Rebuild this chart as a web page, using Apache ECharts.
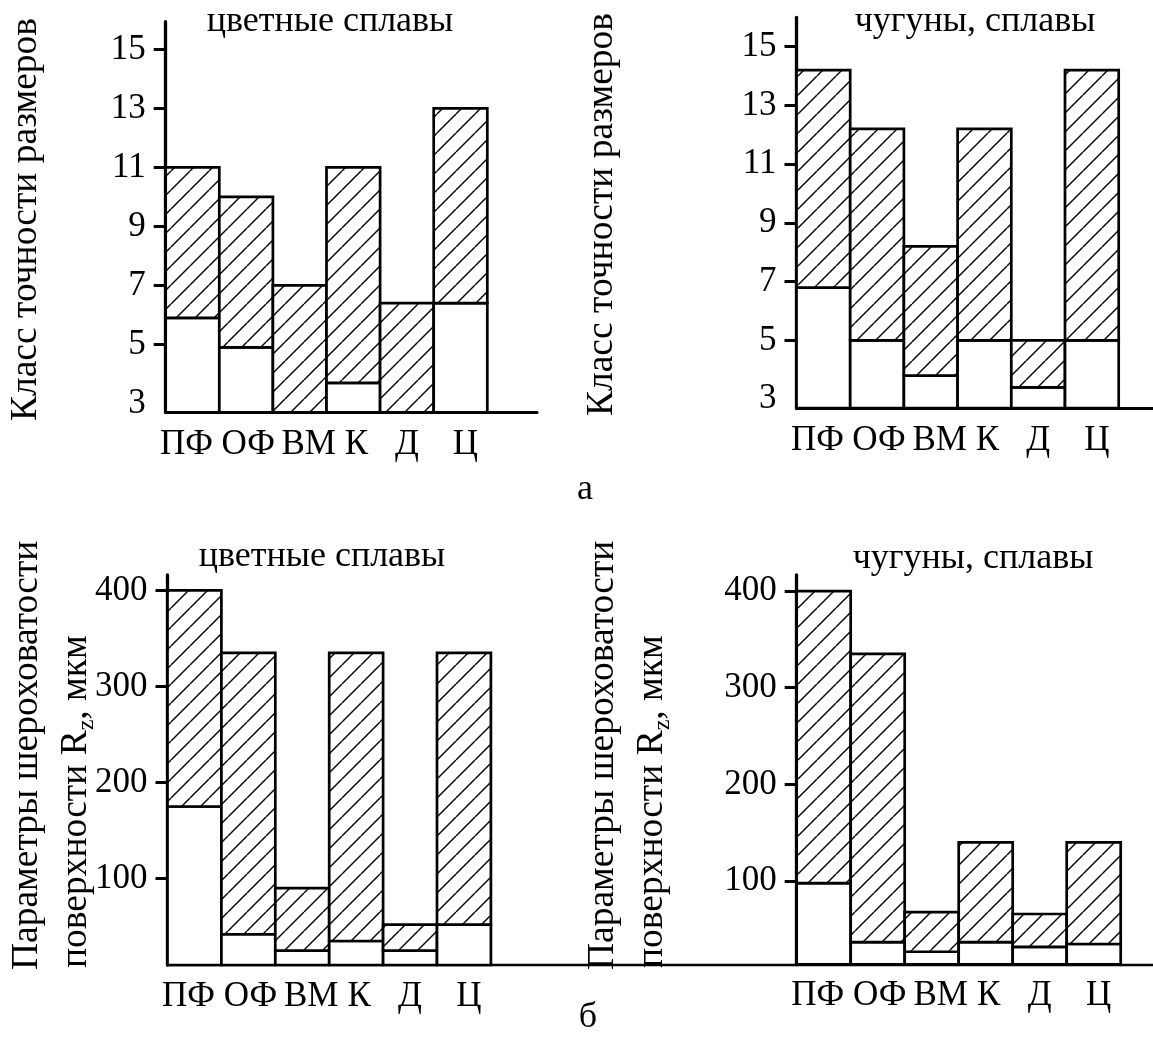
<!DOCTYPE html>
<html>
<head>
<meta charset="utf-8">
<script src="https://cdn.jsdelivr.net/npm/echarts@6/dist/echarts.min.js"></script>
<style>
html,body{margin:0;padding:0;background:#fff;}
#chart{width:1153px;height:1037px;}
</style>
</head>
<body>
<div id="chart"></div>
<script>
// ---------- DATA ----------
const categories = ['ПФ', 'ОФ', 'ВМ', 'К', 'Д', 'Ц'];

// а) Класс точности размеров (low = bottom of hatched range, high = top)
const accNonFerrousLow  = [5.9, 4.9, null, 3.7, null, 6.4];
const accNonFerrousHigh = [11, 10, 7, 11, 6.4, 13];
const accCastIronLow    = [6.8, 5, 3.8, 5, 3.4, 5];
const accCastIronHigh   = [14.2, 12.2, 8.2, 12.2, 5, 14.2];

// б) Параметры шероховатости Rz, мкм
const roughNonFerrousLow  = [175, 42, 25, 35, 25, 52];
const roughNonFerrousHigh = [400, 335, 90, 335, 52, 335];
const roughCastIronLow    = [98, 37, 27, 37, 32, 35];
const roughCastIronHigh   = [400, 335, 68, 140, 66, 140];

const accTickLabels = [3, 5, 7, 9, 11, 13, 15];
const accTickMarks  = [5, 7, 9, 11, 13, 15];
const roughTickLabels = [100, 200, 300, 400];
const roughTickMarks  = [100, 200, 300, 400];

const titleNonFerrous = 'цветные сплавы';
const titleCastIron = 'чугуны, сплавы';
const yTitleAcc = 'Класс точности размеров';
const yTitleRough1 = 'Параметры шероховатости';
const yTitleRough2 = 'поверхности R{z|z}, мкм';

// ---------- STYLE / LAYOUT ----------
const FONT = 'Liberation Serif';
const LINE = 2.7;
const labelNudge = [-6, 2, 9, 3, 0, 5];

function hatchCanvas() {
  const s = 19;
  const c = document.createElement('canvas');
  c.width = s; c.height = s;
  const g = c.getContext('2d');
  g.fillStyle = '#fff';
  g.fillRect(0, 0, s, s);
  g.strokeStyle = '#000';
  g.lineWidth = 1.4;
  for (const k of [-s, 0, s]) {
    g.beginPath();
    g.moveTo(k, s);
    g.lineTo(k + s, 0);
    g.stroke();
  }
  return c;
}
const hatch = { image: hatchCanvas(), repeat: 'repeat' };

const panels = [
  { left: 165.7, top: 21.7, width: 321.6, height: 390.6, min: 2.7, max: 15.94,
    low: accNonFerrousLow, high: accNonFerrousHigh,
    labels: accTickLabels, marks: accTickMarks, extEnd: 537, xw: 3, lm: 15 },
  { left: 796.5, top: 17.3, width: 322.2, height: 390.7, min: 2.7, max: 16.0,
    low: accCastIronLow, high: accCastIronHigh,
    labels: accTickLabels, marks: accTickMarks, extEnd: 1160, xw: 3, lm: 15 },
  { left: 167.5, top: 575, width: 323.4, height: 390, min: 10, max: 416,
    low: roughNonFerrousLow, high: roughNonFerrousHigh,
    labels: roughTickLabels, marks: roughTickMarks, extEnd: 797, xw: 2.4, lm: 14 },
  { left: 796.7, top: 575, width: 324, height: 389.3, min: 14, max: 416.6,
    low: roughCastIronLow, high: roughCastIronHigh,
    labels: roughTickLabels, marks: roughTickMarks, extEnd: 1160, xw: 2.4, lm: 14 }
];

const rich = {};
labelNudge.forEach((d, k) => {
  rich['s' + k] = { fontFamily: FONT, fontSize: 35, color: '#000',
                    padding: [0, d < 0 ? -2 * d : 0, 0, d > 0 ? 2 * d : 0] };
});

function makeRender(p) {
  return function (params, api) {
    const i = api.value(0);
    const low = api.value(1);
    const high = api.value(2);
    const hasLow = !isNaN(low) && low > p.min;
    const lo = hasLow ? low : p.min;
    const w = api.size([1, 0])[0];
    const pBase = api.coord([i, p.min]);
    const pLow = api.coord([i, lo]);
    const pHigh = api.coord([i, high]);
    const x = pBase[0] - w / 2;
    const children = [];
    if (hasLow) {
      children.push({ type: 'rect',
        shape: { x: x, y: pLow[1], width: w, height: pBase[1] - pLow[1] },
        style: { fill: '#fff', stroke: '#000', lineWidth: LINE } });
    }
    children.push({ type: 'rect',
      shape: { x: x, y: pHigh[1], width: w, height: pLow[1] - pHigh[1] },
      style: { fill: hatch, stroke: '#000', lineWidth: LINE } });
    return { type: 'group', children: children };
  };
}

const grid = [], xAxis = [], yAxis = [], series = [];
panels.forEach((p, i) => {
  grid.push({ left: p.left, top: p.top, width: p.width, height: p.height, containLabel: false });
  xAxis.push({
    gridIndex: i, type: 'category', data: categories, boundaryGap: true,
    axisLine: { show: true, onZero: false, lineStyle: { color: '#000', width: p.xw } },
    axisTick: { show: false },
    axisLabel: { color: '#000', fontFamily: FONT, fontSize: 35, margin: p.lm, interval: 0,
                 formatter: (v, idx) => '{s' + idx + '|' + v + '}', rich: rich },
    splitLine: { show: false }
  });
  yAxis.push({
    gridIndex: i, type: 'value', min: p.min, max: p.max,
    axisLine: { show: true, onZero: false, lineStyle: { color: '#000', width: 3.3 } },
    axisTick: { show: true, inside: false, length: 12, customValues: p.marks,
                lineStyle: { color: '#000', width: 3 } },
    axisLabel: { customValues: p.labels, color: '#000', fontFamily: FONT, fontSize: 35, margin: 20 },
    splitLine: { show: false }
  });
  series.push({
    type: 'custom', xAxisIndex: i, yAxisIndex: i, silent: true,
    encode: { x: 0, y: 2 },
    renderItem: makeRender(p),
    data: categories.map((c, k) => [k, p.low[k] == null ? NaN : p.low[k], p.high[k]])
  });
});
// axis-line extensions to the right of the bars
panels.forEach((p, i) => {
  const start = p.left + p.width;
  grid.push({ left: start, top: p.top + p.height - 10, width: p.extEnd - start, height: 10 });
  xAxis.push({
    gridIndex: 4 + i, type: 'value', min: 0, max: 1,
    axisLine: { show: true, onZero: false, lineStyle: { color: '#000', width: p.xw } },
    axisTick: { show: false }, axisLabel: { show: false }, splitLine: { show: false }
  });
  yAxis.push({ gridIndex: 4 + i, type: 'value', show: false });
});

function txt(text, x, y, size, opts) {
  return Object.assign({
    type: 'text', x: x, y: y, silent: true,
    style: Object.assign({ text: text, fill: '#000', font: size + 'px "' + FONT + '"',
                           align: 'center', verticalAlign: 'middle' }, opts && opts.style || {})
  }, opts && opts.el || {});
}
const rot = { el: { rotation: Math.PI / 2 }, style: { align: 'left' } };
const rotSub = { el: { rotation: Math.PI / 2 }, style: { align: 'left', lineHeight: 46,
  rich: { z: { fontFamily: FONT, fontSize: 24, verticalAlign: 'bottom', lineHeight: 24, fill: '#000' } } } };

const graphic = [
  txt(titleNonFerrous, 330, 22, 36),
  txt(titleCastIron, 975, 22, 36),
  txt(titleNonFerrous, 322, 557, 36),
  txt(titleCastIron, 973, 559, 36),
  txt(yTitleAcc, 26, 421, 37.5, rot),
  txt(yTitleAcc, 602, 416, 37.5, rot),
  txt(yTitleRough1, 27, 970, 37.5, rot),
  txt(yTitleRough1, 603, 970, 37.5, rot),
  txt(yTitleRough2, 76, 968, 37.5, rotSub),
  txt(yTitleRough2, 652, 968, 37.5, rotSub),
  txt('а', 585, 490, 36),
  txt('б', 588, 1018, 36)
];

const chart = echarts.init(document.getElementById('chart'), null, { renderer: 'canvas' });
chart.setOption({
  animation: false,
  backgroundColor: '#fff',
  grid: grid, xAxis: xAxis, yAxis: yAxis, series: series, graphic: graphic
});
</script>
</body>
</html>
